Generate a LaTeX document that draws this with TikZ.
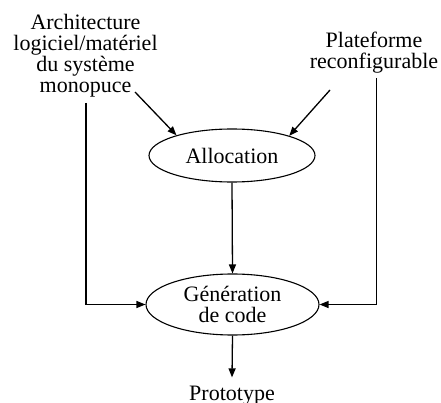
\documentclass[tikz,border=0pt]{standalone}
\usepackage{fontspec}
\setmainfont{Liberation Serif}
\usetikzlibrary{shapes.geometric,arrows.meta}
\begin{document}
\begin{tikzpicture}[x=1pt,y=-1pt,
  every node/.style={font=\fontsize{22}{21}\selectfont},
  lbl/.style={align=center,inner sep=0pt,anchor=base},
  proc/.style={draw,ellipse,line width=1.1pt,inner sep=0pt},
  conn/.style={line width=1.3pt,-{Triangle[length=9pt,width=7pt]}}]
\useasboundingbox (0,0) rectangle (441,403);
\node[lbl] (arch) at (85.5,93) {Architecture\\logiciel/matériel\\du système\\monopuce};
\node[lbl] (plat) at (374,69) {Plateforme\\reconfigurable};
\node[proc,minimum width=166pt,minimum height=53pt] (alloc) at (232,155.5) {Allocation};
\node[proc,minimum width=173pt,minimum height=61pt,align=center,
      font=\fontsize{22}{21.5}\selectfont] (gen) at (232.5,304.5) {Génération\\de code};
\node[lbl,inner sep=8pt] (proto) at (232,400) {Prototype};
\coordinate (a1) at (135,92);
\coordinate (p1) at (330,90);
\coordinate (l1) at (86,103);
\coordinate (r1) at (376.5,78);
\draw[conn] (a1) -- (alloc.160);
\draw[conn] (p1) -- (alloc.19);
\draw[conn] (alloc.south) -- (gen.north);
\draw[conn] (l1) |- (gen.west);
\draw[conn] (r1) |- (gen.east);
\draw[conn] (gen.south) -- (proto.north);
\end{tikzpicture}
\end{document}
